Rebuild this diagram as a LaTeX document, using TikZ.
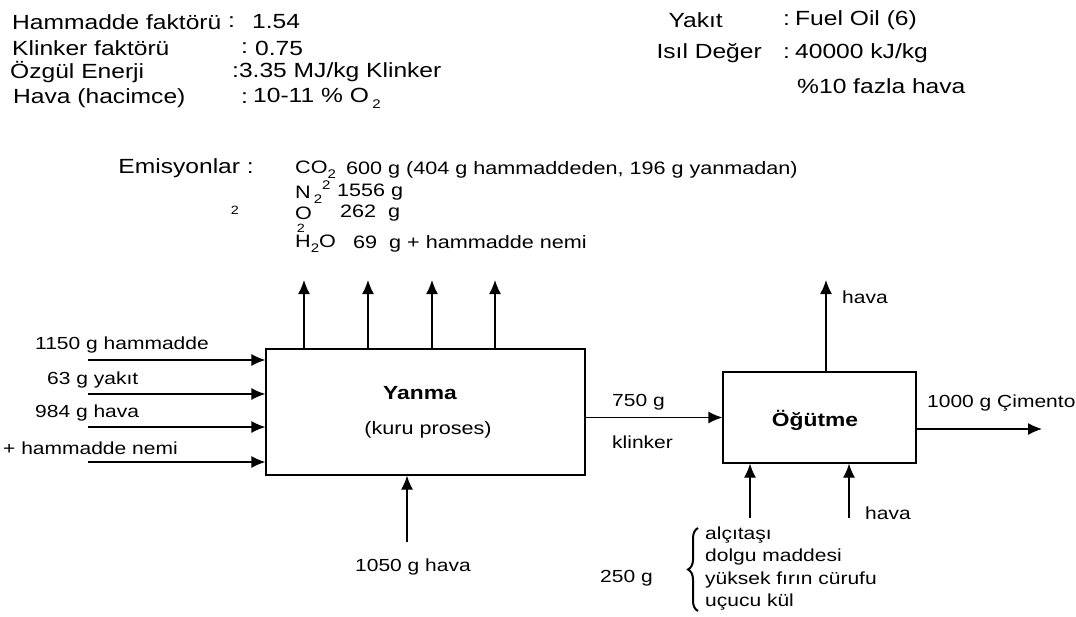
\documentclass[tikz,border=0pt]{standalone}
\usepackage{fontspec}
\setmainfont{Liberation Sans}[FakeStretch=1.2]
\usetikzlibrary{arrows.meta,decorations.pathreplacing}
\newcommand\lowtwo{\raisebox{-0.55ex}{\fontsize{12.5}{13}\selectfont 2}}
\newcommand\hightwo{\raisebox{0.9ex}{\fontsize{12.5}{13}\selectfont 2}}
\begin{document}
\begin{tikzpicture}[x=1pt,y=-1pt,
  arr/.style={line width=1.3pt, -{Latex[length=14pt,width=12pt]}},
  box/.style={draw, line width=1.3pt, inner sep=0},
  tl/.style={inner sep=0, anchor=west, font=\fontsize{20.5}{22}\selectfont},
  dl/.style={inner sep=0, anchor=west, font=\fontsize{17.5}{20}\selectfont},
  el/.style={inner sep=0, anchor=west, font=\fontsize{18}{20}\selectfont},
  sm/.style={inner sep=0, font=\fontsize{12}{12}\selectfont},
  bt/.style={inner sep=0, font=\bfseries\fontsize{19}{21}\selectfont}]
\useasboundingbox (0,0) rectangle (1076,616);
% header left
\node[tl] (h1) at (12,22) {Hammadde faktörü};
\node[tl] (h1c) at (228,22) {:};
\node[tl] (h1v) at (252,22) {1.54};
\node[tl] (h2) at (12,48) {Klinker faktörü};
\node[tl] (h2c) at (241,48) {:};
\node[tl] (h2v) at (255,48) {0.75};
\node[tl] (h3) at (10,72) {Özgül Enerji};
\node[tl] (h3v) at (232,72) {:3.35 MJ/kg Klinker};
\node[tl] (h4) at (13,98) {Hava (hacimce)};
\node[tl] (h4c) at (241,98) {:};
\node[tl] (h4v) at (253,98) {10-11 \% O\,\lowtwo};
% header right
\node[tl, anchor=east] (y1) at (723,20) {Yakıt};
\node[tl] (y1c) at (783,20) {:};
\node[tl] (y1v) at (795,20) {Fuel Oil (6)};
\node[tl, anchor=east] (y2) at (762,53) {Isıl Değer};
\node[tl] (y2c) at (783,53) {:};
\node[tl] (y2v) at (795,53) {40000 kJ/kg};
\node[tl] (y3) at (797,86) {\%10 fazla hava};
% emissions
\node[tl, anchor=east] (em) at (254,168) {Emisyonlar :};
\node[sm] (em2) at (235,210) {2};
\node[el] (co) at (295,170) {CO\lowtwo};
\node[el] (cov) at (346,170) {600 g (404 g hammaddeden, 196 g yanmadan)};
\node[el] (n2) at (295,192) {N\,\lowtwo\hightwo};
\node[el] (n2v) at (337,192) {1556 g};
\node[el] (o2) at (295,213) {O};
\node[sm] (o2s) at (301,228.5) {2};
\node[el] (o2v) at (340,213) {262 \ g};
\node[el] (h2o) at (295,244) {H\lowtwo O};
\node[el] (h2ov) at (353,244) {69 \ g + hammadde nemi};
% boxes
\node[box, minimum width=319pt, minimum height=126pt] (yanma) at (425.5,412) {};
\node[bt] (yt) at (420,393) {Yanma};
\node[inner sep=0, font=\fontsize{18}{20}\selectfont] (ys) at (428,430) {(kuru proses)};
\node[box, minimum width=193pt, minimum height=91pt] (og) at (819.5,417.5) {};
\node[bt] (ogt) at (815,420) {Öğütme};
% inputs
\node[dl] (l1) at (35,345) {1150 g hammadde};
\node[dl] (l2) at (47,380) {63 g yakıt};
\node[dl] (l3) at (35,413) {984 g hava};
\node[dl] (l4) at (3,448) {+ hammadde nemi};
\foreach \y [count=\i] in {360,394,427,462} {
  \coordinate (in\i) at (88,\y);
  \draw[arr] (in\i) -- (in\i -| yanma.west);
}
\foreach \x [count=\i] in {304,368,432,495} {
  \coordinate (up\i) at (\x,280);
  \draw[arr] (up\i |- yanma.north) -- (up\i);
}
\coordinate (btm) at (407,542);
\draw[arr] (btm) -- (btm |- yanma.south);
\node[dl] (l5) at (355,567) {1050 g hava};
% klinker
\draw[arr] (yanma.east |- og.west) -- (og.west);
\node[dl] (kl1) at (612,402) {750 g};
\node[dl] (kl2) at (612,442) {klinker};
% grinding
\coordinate (ohv) at (826,280);
\draw[arr] (ohv |- og.north) -- (ohv);
\node[dl] (hv1) at (842,297) {hava};
\coordinate (out) at (1042,429);
\draw[arr] (out -| og.east) -- (out);
\node[dl] (cim) at (927,403) {1000 g Çimento};
\coordinate (b1) at (750,518);
\draw[arr] (b1) -- (b1 |- og.south);
\coordinate (b2) at (849,518);
\draw[arr] (b2) -- (b2 |- og.south);
\node[dl] (hv2) at (865,513) {hava};
% additives
\node[dl] (g250) at (600,578) {250 g};
\coordinate (brb) at (698,611);
\coordinate (brt) at (698,528);
\draw[line width=2pt, decorate, decoration={brace, amplitude=10pt}] (brb) -- (brt);
\node[dl] (a1) at (705,535) {alçıtaşı};
\node[dl] (a2) at (705,557) {dolgu maddesi};
\node[dl] (a3) at (705,580) {yüksek fırın cürufu};
\node[dl] (a4) at (705,602) {uçucu kül};
\end{tikzpicture}
\end{document}
